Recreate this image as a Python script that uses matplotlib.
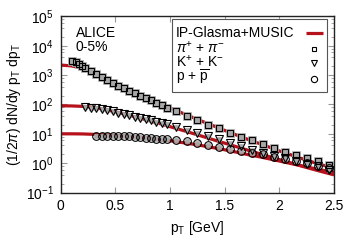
import numpy as np
import matplotlib
matplotlib.use("Agg")
import matplotlib.pyplot as plt
from matplotlib.patches import Rectangle

plt.rcParams['font.family'] = ['Liberation Sans', 'DejaVu Sans']
plt.rcParams['mathtext.fontset'] = 'custom'
plt.rcParams['mathtext.rm'] = 'Liberation Sans'
plt.rcParams['mathtext.it'] = 'Liberation Sans:italic'
plt.rcParams['mathtext.bf'] = 'Liberation Sans:bold'

# ---- data ----
pion_pt = [0.105, 0.135, 0.165, 0.195, 0.225, 0.275, 0.325, 0.375, 0.425, 0.475,
           0.525, 0.575, 0.625, 0.675, 0.725, 0.775, 0.825, 0.875, 0.925, 0.975,
           1.05, 1.15, 1.25, 1.35, 1.45, 1.55, 1.65, 1.75, 1.85, 1.95,
           2.05, 2.15, 2.25, 2.35, 2.45]
pion_val = [3100, 2800, 2470, 2100, 1800, 1380, 1060, 850, 680, 540,
            435, 360, 295, 240, 198, 165, 138, 113, 95, 78,
            58, 41, 28.5, 20, 15.5, 11, 8.0, 6.2, 4.5, 3.4,
            2.45, 1.9, 1.47, 1.19, 0.87]

kaon_pt = [0.225, 0.275, 0.325, 0.375, 0.425, 0.475, 0.525, 0.575, 0.625, 0.675,
           0.725, 0.775, 0.825, 0.875, 0.925, 0.975,
           1.05, 1.15, 1.25, 1.35, 1.45, 1.55, 1.65, 1.75, 1.85, 1.95,
           2.05, 2.15, 2.25, 2.35, 2.45]
kaon_val = [84, 78, 74, 70, 64, 58, 52, 48, 43, 38.5,
            35, 31.5, 28.5, 25.5, 23, 21,
            17.4, 14, 11, 8.6, 6.6, 5.0, 3.8, 2.9, 2.3, 1.8,
            1.47, 1.19, 0.96, 0.82, 0.58]

proton_pt = [0.325, 0.375, 0.425, 0.475, 0.525, 0.575, 0.625, 0.675, 0.725, 0.775,
             0.825, 0.875, 0.925, 0.975,
             1.05, 1.15, 1.25, 1.35, 1.45, 1.55, 1.65, 1.75, 1.85, 1.95,
             2.05, 2.15, 2.25, 2.35, 2.45]
proton_val = [8.6, 8.5, 8.5, 8.4, 8.4, 8.3, 8.1, 7.9, 7.7, 7.4,
              7.1, 6.9, 6.7, 6.5,
              6.2, 5.6, 4.9, 4.2, 3.6, 3.0, 2.6, 2.3, 2.0, 1.66,
              1.38, 1.17, 0.99, 0.81, 0.67]

model_pt = [0.0, 0.1, 0.2, 0.3, 0.4, 0.5, 0.6, 0.7, 0.8, 0.9, 1.0, 1.1, 1.2,
            1.3, 1.4, 1.5, 1.6, 1.7, 1.8, 1.9, 2.0, 2.1, 2.2, 2.3, 2.4, 2.5]
model_pion = [2200, 2050, 1700, 1200, 800, 540, 360, 245, 165, 112, 77, 53, 37,
              26, 18.5, 13, 9.3, 6.7, 4.9, 3.6, 2.6, 1.95, 1.45, 1.1, 0.85, 0.68]
model_kaon = [90, 89, 86, 79, 68, 56, 45, 36, 28.5, 22.5, 17.5, 13.6, 10.5,
              8.1, 6.2, 4.8, 3.7, 2.85, 2.2, 1.7, 1.32, 1.03, 0.8, 0.63, 0.5, 0.4]
model_proton = [10, 10, 9.9, 9.6, 9.2, 8.8, 8.3, 7.7, 7.1, 6.4, 5.8, 5.1, 4.5,
                3.9, 3.35, 2.85, 2.4, 2.0, 1.7, 1.42, 1.18, 0.98, 0.82, 0.68, 0.57, 0.48]

xticks = [0, 0.5, 1, 1.5, 2, 2.5]
xticklabels = ['0', '0.5', '1', '1.5', '2', '2.5']
legend_labels = ['IP-Glasma+MUSIC', r'$\pi^{+}$ + $\pi^{-}$', r'K$^{+}$ + K$^{-}$',
                 r'p + $\overline{\rm p}$']

# ---- figure ----
fig = plt.figure(figsize=(3.6, 2.52), dpi=100)
ax = fig.add_axes([0.169, 0.236, 0.759, 0.699])

red = '#b5121b'
gray = '#a8a8a8'

for vals in (model_pion, model_kaon, model_proton):
    ax.plot(model_pt, vals, color=red, lw=2.3, zorder=2, solid_capstyle='butt')

# systematic boxes (gray) behind markers
ax.plot(pion_pt, pion_val, ls='none', marker='s', ms=5.5, mfc=gray, mec=gray,
        mew=0.5, zorder=3)
ax.plot(kaon_pt, kaon_val, ls='none', marker='s', ms=3.5, mfc=gray, mec=gray,
        mew=0.5, zorder=3)
ax.plot(proton_pt, proton_val, ls='none', marker='s', ms=3.5, mfc=gray, mec=gray,
        mew=0.5, zorder=3)

ax.plot(pion_pt, pion_val, ls='none', marker='s', ms=4.5, mfc='none', mec='black',
        mew=0.8, zorder=4)
ax.plot(kaon_pt, kaon_val, ls='none', marker='v', ms=5.5, mfc='none', mec='black',
        mew=0.8, zorder=4)
ax.plot(proton_pt, proton_val, ls='none', marker='o', ms=5.5, mfc='none', mec='black',
        mew=0.8, zorder=4)

ax.set_yscale('log')
ax.set_xlim(0, 2.5)
ax.set_ylim(0.1, 1e5)
ax.set_xticks(xticks)
ax.set_xticklabels(xticklabels)
ax.set_yticks([1e-1, 1e0, 1e1, 1e2, 1e3, 1e4, 1e5])
ax.set_yticklabels([r'10$^{-1}$', r'10$^{0}$', r'10$^{1}$', r'10$^{2}$',
                    r'10$^{3}$', r'10$^{4}$', r'10$^{5}$'])
ax.yaxis.set_minor_locator(matplotlib.ticker.LogLocator(base=10, subs=[2, 4, 6, 8]))
ax.yaxis.set_minor_formatter(matplotlib.ticker.NullFormatter())
ax.tick_params(which='both', direction='in', top=True, right=True,
               color='#999999', labelsize=10, pad=5)
ax.tick_params(which='major', length=4)
ax.tick_params(which='minor', length=2)
for s in ax.spines.values():
    s.set_color('#222222')
    s.set_linewidth(1.0)

ax.set_xlabel(r'p$_{\rm T}$ [GeV]', fontsize=10, labelpad=4)
ax.set_ylabel(r'(1/2$\pi$) dN/dy p$_{\rm T}$ dp$_{\rm T}$', fontsize=10, labelpad=2)

ax.text(0.055, 0.945, 'ALICE\n0-5%', transform=ax.transAxes, fontsize=10,
        va='top', ha='left', linespacing=0.95)

# ---- gnuplot-style key: text left, sample right ----
T = ax.transAxes
ax.add_patch(Rectangle((0.407, 0.571), 0.567, 0.415, transform=T, fill=True,
                       facecolor='white', edgecolor='#555555', lw=0.8, zorder=6))
baselines = [0.884, 0.797, 0.713, 0.628]
for lab, yy in zip(legend_labels, baselines):
    ax.text(0.421, yy, lab, transform=T, fontsize=10, va='baseline', ha='left',
            zorder=7)
rows = [0.906, 0.815, 0.736, 0.642]
ax.plot([0.897, 0.960], [rows[0], rows[0]], transform=T, color=red, lw=2.3,
        zorder=7, solid_capstyle='butt')
ax.plot([0.925], [rows[1]], transform=T, ls='none', marker='s', ms=3.5, mfc='none',
        mec='black', mew=0.8, zorder=7)
ax.plot([0.925], [rows[2]], transform=T, ls='none', marker='v', ms=4.5, mfc='none',
        mec='black', mew=0.8, zorder=7)
ax.plot([0.925], [rows[3]], transform=T, ls='none', marker='o', ms=4.5, mfc='none',
        mec='black', mew=0.8, zorder=7)

fig.savefig('out.png', dpi=100)
